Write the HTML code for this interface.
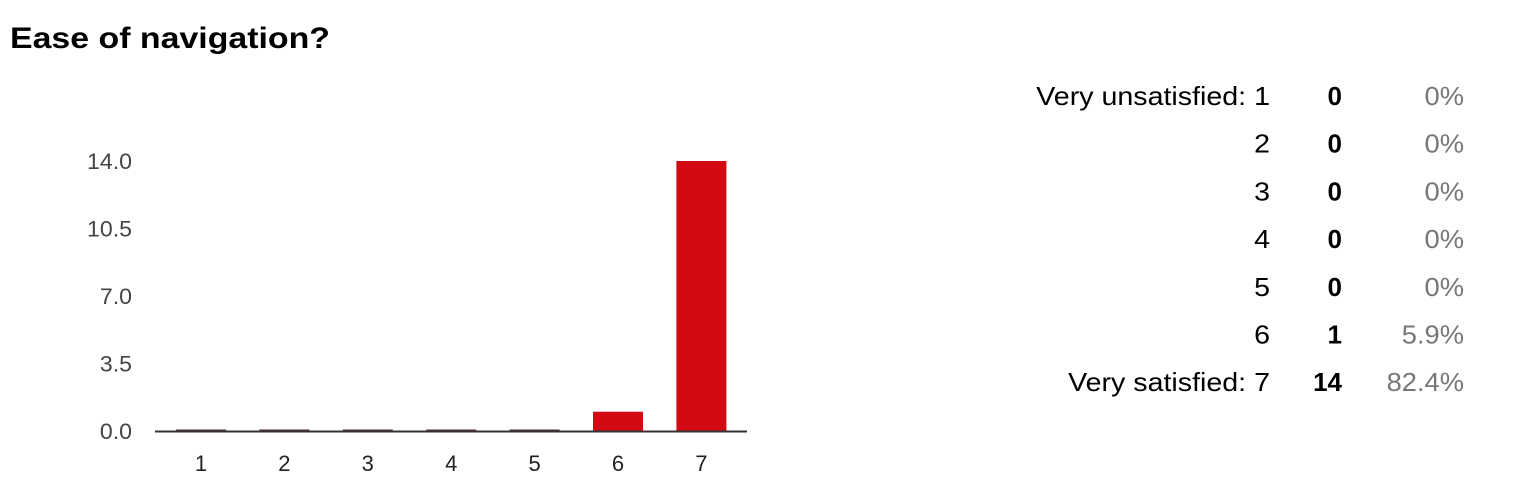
<!DOCTYPE html>
<html><head><meta charset="utf-8"><style>
body{margin:0;width:1520px;height:498px;background:#fff;font-family:"Liberation Sans",Arial,sans-serif;overflow:hidden}
</style></head><body>
<svg width="1520" height="498" xmlns="http://www.w3.org/2000/svg" font-family="Liberation Sans, Arial, sans-serif">
<text x="10" y="48" font-size="30" font-weight="bold" fill="#000" textLength="320" lengthAdjust="spacingAndGlyphs">Ease of navigation?</text>
<g id="plot"></g>
<g id="tbl"></g>
</svg>
<script>
const categories=["1","2","3","4","5","6","7"];
const counts=[0,0,0,0,0,1,14];
const rowLabels=["Very unsatisfied: 1","2","3","4","5","6","Very satisfied: 7"];
const percents=["0%","0%","0%","0%","0%","5.9%","82.4%"];
const yTicks=[0,3.5,7,10.5,14];
const NS="http://www.w3.org/2000/svg";
const plot=document.getElementById('plot'),tbl=document.getElementById('tbl');
const y0=431,yTop=161,yMax=14;
const y=v=>y0-(v/yMax)*(y0-yTop);
const x=i=>201+i*83.4;
const bw=50;
function mk(tag,attrs,parent,text){const e=document.createElementNS(NS,tag);for(const k in attrs)e.setAttribute(k,attrs[k]);if(text!==undefined)e.textContent=text;parent.appendChild(e);return e;}
function widen(e,f){const w=e.getComputedTextLength();e.setAttribute('textLength',(w*f).toFixed(1));e.setAttribute('lengthAdjust','spacingAndGlyphs');}
yTicks.forEach(t=>{
  const e=mk('text',{x:132,y:y(t)+8,'font-size':22,'text-anchor':'end',fill:'#444'},plot,t.toFixed(1));
  
  
  widen(e,1.05);
});
categories.forEach((c,i)=>{
  const h=Math.max(y0-y(counts[i]),1.5);
  const r=mk('rect',{x:x(i)-bw/2,y:y0-h,width:bw,height:h,fill:counts[i]>0?'#d10a13':'#5a2a2a'},plot);
  
  
  const t=mk('text',{x:x(i),y:471,'font-size':22,'text-anchor':'middle',fill:'#222'},plot,c);
  
  
});
const ax=mk('line',{x1:155,x2:747,y1:y0+0.5,y2:y0+0.5,stroke:'#333','stroke-width':2},plot);


rowLabels.forEach((l,i)=>{
  const yy=105+i*47.7;
  const a=mk('text',{x:1270,y:yy,'font-size':26,'text-anchor':'end',fill:'#000'},tbl,l);
  
  
  widen(a,1.1);
  const b=mk('text',{x:1342,y:yy,'font-size':26,'font-weight':'bold','text-anchor':'end',fill:'#000'},tbl,String(counts[i]));
  
  
  const p=mk('text',{x:1464,y:yy,'font-size':26,'text-anchor':'end',fill:'#777'},tbl,percents[i]);
  
  
  widen(p,1.05);
});
</script>
</body></html>
